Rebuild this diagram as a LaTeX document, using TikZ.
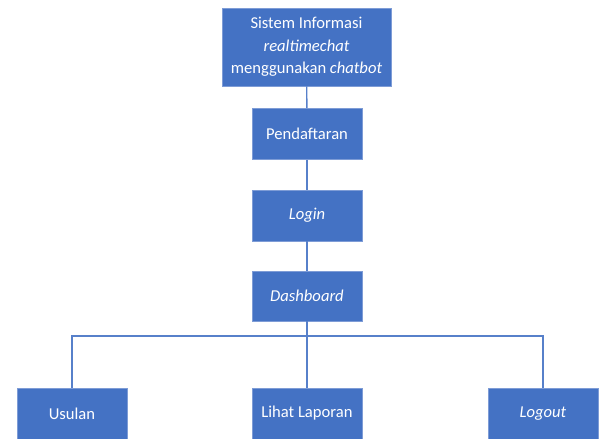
\documentclass[tikz,border=0pt]{standalone}
\usepackage{fontspec}
\setmainfont{Carlito}
\usepackage{tikz}

\definecolor{biru}{HTML}{4472C4}
\definecolor{tepi}{HTML}{7E9CD6}

\begin{document}
\begin{tikzpicture}[x=1pt, y=1pt,
	every node/.style={font=\fontsize{16.6}{22.5}\selectfont},
	kotak/.style={fill=biru, draw=tepi, line width=0.8pt, text=white, align=center, minimum width=110, minimum height=51, inner sep=0pt},
	garis/.style={draw=biru!90!white, line width=1.4pt}]
	\useasboundingbox (0,0) rectangle (605,439);
	\node[kotak, minimum width=169, minimum height=78] (sistem) at (306.5,392) {Sistem Informasi\\\textit{realtimechat}\\menggunakan \textit{chatbot}};
	\node[kotak] (daftar) at (307,305) {Pendaftaran};
	\node[kotak] (login) at (307,223.5) {\textit{Login}};
	\node[kotak, minimum height=50] (dash) at (307,143) {\textit{Dashboard}};
	\node[kotak] (usulan) at (72,25.5) {Usulan};
	\node[kotak] (laporan) at (307,25.5) {Lihat Laporan};
	\node[kotak] (logout) at (543,25.5) {\textit{Logout}};
	\coordinate (cabang) at (307,103);
	\draw[garis] (sistem) -- (daftar);
	\draw[garis] (daftar) -- (login);
	\draw[garis] (login) -- (dash);
	\draw[garis] (dash) -- (cabang) -- (laporan);
	\draw[garis] (usulan.north) |- (cabang) -| (logout.north);
\end{tikzpicture}
\end{document}
